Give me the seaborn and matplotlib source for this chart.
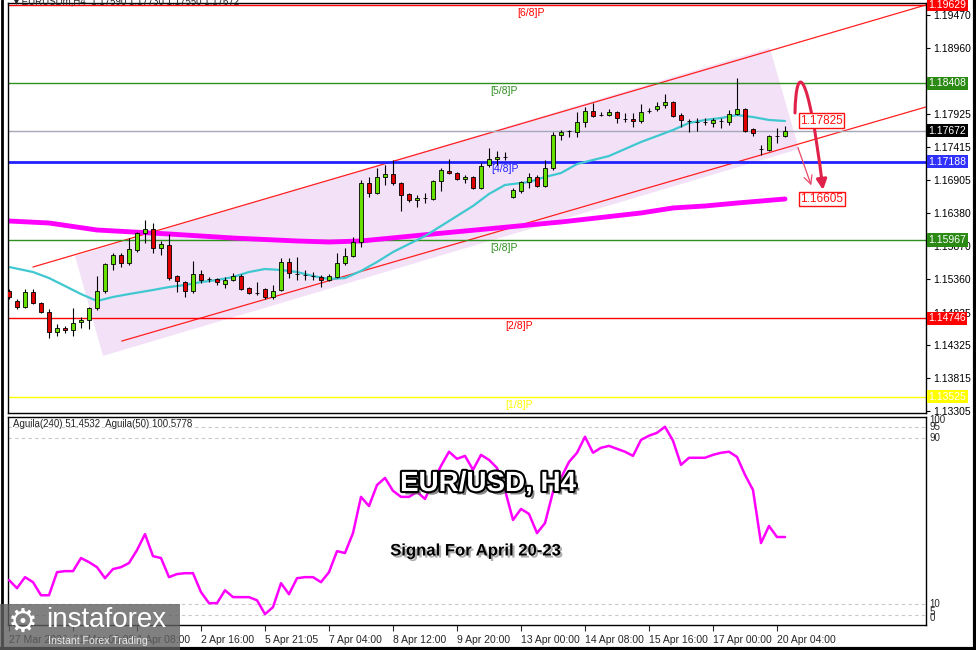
import matplotlib.pyplot as plt
import seaborn as sns
import pandas as pd
import numpy as np
from matplotlib.patches import Polygon, FancyArrowPatch, Rectangle
from matplotlib.path import Path
from matplotlib.lines import Line2D
import matplotlib.patheffects as pe
import matplotlib.transforms as mtransforms

# EUR/USD H4 candles, 27 Mar -> 20 Apr
opens = [1.15173, 1.15018, 1.14924, 1.15158, 1.14986, 1.14846, 1.14535, 1.14596, 1.14566, 1.14689,
         1.14720, 1.14908, 1.15173, 1.15593, 1.15733, 1.15609, 1.15811, 1.16076, 1.16139, 1.15843,
         1.15889, 1.15407, 1.15313, 1.15173, 1.15438, 1.15360, 1.15360, 1.15282, 1.15344, 1.15407,
         1.15220, 1.15142, 1.15204, 1.15080, 1.15189, 1.15625, 1.15438, 1.15422, 1.15407, 1.15391,
         1.15344, 1.15391, 1.15609, 1.15718, 1.15936, 1.16855, 1.16699, 1.16948, 1.16995, 1.16855,
         1.16684, 1.16590, 1.16621, 1.16606, 1.16886, 1.17042, 1.17010, 1.16917, 1.16948, 1.16777,
         1.17135, 1.17228, 1.17260, 1.16637, 1.16730, 1.16870, 1.16948, 1.16808, 1.17088, 1.17602,
         1.17664, 1.17649, 1.17804, 1.17976, 1.17913, 1.17913, 1.17960, 1.17851, 1.17851, 1.17820,
         1.17976, 1.18007, 1.18069, 1.18116, 1.17913, 1.17820, 1.17804, 1.17804, 1.17789, 1.17820,
         1.17804, 1.17929, 1.18007, 1.17695, 1.17384, 1.17369, 1.17586, 1.17586]
highs = [1.15204, 1.15049, 1.15204, 1.15204, 1.15002, 1.14893, 1.14658, 1.14627, 1.14908, 1.14768,
         1.14924, 1.15407, 1.15609, 1.15764, 1.15764, 1.15998, 1.16092, 1.16279, 1.16232, 1.15952,
         1.16061, 1.15422, 1.15329, 1.15640, 1.15500, 1.15391, 1.15375, 1.15391, 1.15453, 1.15438,
         1.15235, 1.15313, 1.15220, 1.15266, 1.15687, 1.15687, 1.15702, 1.15500, 1.15469, 1.15422,
         1.15438, 1.15764, 1.15843, 1.16014, 1.16901, 1.16948, 1.17088, 1.17135, 1.17213, 1.16870,
         1.16699, 1.16668, 1.16699, 1.16901, 1.17088, 1.17228, 1.17026, 1.16979, 1.16964, 1.17166,
         1.17400, 1.17353, 1.17337, 1.16777, 1.16886, 1.17010, 1.16979, 1.17213, 1.17649, 1.17680,
         1.17680, 1.17960, 1.18038, 1.18100, 1.17960, 1.18007, 1.17976, 1.17945, 1.17945, 1.18085,
         1.18022, 1.18116, 1.18240, 1.18131, 1.17945, 1.17851, 1.17867, 1.17867, 1.17867, 1.17867,
         1.17991, 1.18490, 1.18022, 1.17711, 1.17446, 1.17602, 1.17711, 1.17742]
lows = [1.15049, 1.14893, 1.14908, 1.14971, 1.14830, 1.14441, 1.14473, 1.14519, 1.14473, 1.14596,
        1.14581, 1.14877, 1.15142, 1.15500, 1.15547, 1.15578, 1.15780, 1.15921, 1.15764, 1.15733,
        1.15344, 1.15158, 1.15080, 1.15142, 1.15297, 1.15313, 1.15266, 1.15220, 1.15329, 1.15189,
        1.15126, 1.15111, 1.15049, 1.15049, 1.15173, 1.15375, 1.15344, 1.15344, 1.15344, 1.15235,
        1.15329, 1.15375, 1.15578, 1.15702, 1.15858, 1.16637, 1.16684, 1.16824, 1.16824, 1.16419,
        1.16559, 1.16481, 1.16543, 1.16590, 1.16730, 1.16995, 1.16901, 1.16855, 1.16761, 1.16761,
        1.17104, 1.17135, 1.17213, 1.16621, 1.16699, 1.16777, 1.16792, 1.16792, 1.17057, 1.17524,
        1.17571, 1.17571, 1.17727, 1.17882, 1.17898, 1.17898, 1.17789, 1.17804, 1.17727, 1.17789,
        1.17945, 1.17976, 1.18022, 1.17882, 1.17727, 1.17649, 1.17664, 1.17758, 1.17727, 1.17711,
        1.17758, 1.17913, 1.17649, 1.17586, 1.17291, 1.17353, 1.17477, 1.17571]
closes = [1.15080, 1.14924, 1.15158, 1.14986, 1.14846, 1.14535, 1.14596, 1.14566, 1.14674, 1.14720,
          1.14908, 1.15173, 1.15593, 1.15733, 1.15609, 1.15827, 1.16076, 1.16139, 1.15843, 1.15905,
          1.15375, 1.15329, 1.15173, 1.15438, 1.15344, 1.15360, 1.15313, 1.15344, 1.15407, 1.15204,
          1.15142, 1.15142, 1.15080, 1.15173, 1.15625, 1.15453, 1.15438, 1.15422, 1.15407, 1.15344,
          1.15407, 1.15609, 1.15718, 1.15936, 1.16855, 1.16699, 1.16948, 1.16995, 1.16855, 1.16668,
          1.16590, 1.16621, 1.16621, 1.16886, 1.17057, 1.17010, 1.16917, 1.16948, 1.16777, 1.17119,
          1.17228, 1.17260, 1.17260, 1.16746, 1.16870, 1.16948, 1.16808, 1.17088, 1.17602, 1.17649,
          1.17664, 1.17804, 1.17976, 1.17898, 1.17913, 1.17960, 1.17867, 1.17851, 1.17820, 1.17960,
          1.17976, 1.18054, 1.18116, 1.17898, 1.17836, 1.17820, 1.17804, 1.17804, 1.17836, 1.17820,
          1.17929, 1.18007, 1.17664, 1.17633, 1.17384, 1.17586, 1.17586, 1.17672]

# fast moving average (cyan) and slow one (magenta), sampled at bar indices
ma_fast_bar = [0, 3, 5, 7, 9, 11, 13, 15, 18, 20, 22, 24, 26, 28, 30, 32, 34, 36, 38, 40, 42, 44, 46, 48,
               50, 52, 54, 56, 58, 60, 62, 65, 67, 69, 71, 73, 75, 77, 79, 81, 83, 85, 87, 89, 91, 93, 95, 97]
ma_fast = [1.15547, 1.15469, 1.15375, 1.15251, 1.15126, 1.15018, 1.15080, 1.15126, 1.15189, 1.15235,
           1.15266, 1.15313, 1.15344, 1.15391, 1.15469, 1.15516, 1.15500, 1.15469, 1.15407, 1.15360,
           1.15375, 1.15485, 1.15625, 1.15780, 1.15905, 1.16029, 1.16185, 1.16341, 1.16497, 1.16684,
           1.16824, 1.16870, 1.16948, 1.17010, 1.17150, 1.17213, 1.17275, 1.17384, 1.17493, 1.17586,
           1.17680, 1.17789, 1.17836, 1.17867, 1.17913, 1.17882, 1.17836, 1.17820]
ma_slow_bar = [0, 5, 11, 20, 28, 36, 40, 44, 53, 61, 69, 79, 83, 87, 91, 97]
ma_slow = [1.16263, 1.16232, 1.16123, 1.16061, 1.15998, 1.15952, 1.15936, 1.15952, 1.16061, 1.16154,
           1.16248, 1.16388, 1.16466, 1.16497, 1.16543, 1.16606]

# Aguila(240) oscillator, one value per bar
aguila = [21.6, 17.7, 23.0, 20.6, 14.3, 14.3, 25.4, 25.9, 25.9, 32.2,
          30.2, 27.8, 22.5, 26.9, 27.8, 29.8, 36.0, 43.7, 33.1, 32.2,
          23.0, 24.5, 24.9, 24.9, 15.8, 10.5, 10.5, 16.7, 13.4, 13.4,
          13.4, 11.9, 5.2, 8.6, 20.1, 14.8, 22.5, 23.0, 23.0, 20.6,
          25.4, 35.5, 34.6, 44.2, 61.6, 57.2, 67.3, 70.7, 64.5, 61.6,
          61.6, 64.0, 60.6, 68.8, 76.5, 83.3, 79.9, 81.3, 74.6, 81.8,
          79.4, 75.5, 64.9, 50.5, 55.8, 53.4, 44.2, 49.0, 64.0, 70.7,
          78.4, 82.8, 90.5, 82.8, 85.2, 86.1, 84.7, 83.3, 81.3, 89.0,
          91.0, 92.4, 95.3, 88.6, 77.0, 80.4, 80.4, 80.4, 81.8, 82.8,
          83.3, 80.8, 72.2, 64.9, 39.4, 47.6, 42.3, 42.3]

time_ticks = [0, 8, 16, 24, 32, 40, 48, 56, 64, 72, 80, 88, 96]
time_labels = ['27 Mar 2026', '31 Mar 00:00', '1 Apr 08:00', '2 Apr 16:00', '5 Apr 21:05', '7 Apr 04:00',
               '8 Apr 12:00', '9 Apr 20:00', '13 Apr 00:00', '14 Apr 08:00', '15 Apr 16:00',
               '17 Apr 00:00', '20 Apr 04:00']
price_ticks = [1.19470, 1.18960, 1.17925, 1.17415, 1.16905, 1.16380, 1.15870, 1.15360,
               1.14835, 1.14325, 1.13815, 1.13305]

# Murrey levels: (name, price, line colour, label bar)
levels = [('[6/8]P', 1.19629, '#ff0000', 63.5),
          ('[5/8]P', 1.18408, '#2f8f1f', 60.1),
          ('[4/8]P', 1.17188, '#2020ff', 60.3),
          ('[3/8]P', 1.15967, '#2f8f1f', 60.1),
          ('[2/8]P', 1.14746, '#ff0000', 62.0),
          ('[1/8]P', 1.13525, '#ffff00', 62.0)]
level_label_bg = {'[6/8]P': '#ff0000', '[5/8]P': '#2a8a14', '[4/8]P': '#3030ff',
                  '[3/8]P': '#2a8a14', '[2/8]P': '#ff0000', '[1/8]P': '#ffff00'}
last_price = 1.17672

# channel
upper_chan = ([3, 114.6], [1.15547, 1.19626])
lower_chan = ([14.1, 114.6], [1.14394, 1.18038])
chan_box = [(8.25, 1.15718), (11.75, 1.14162), (98.75, 1.17384), (95.1, 1.18957)]

sns.set_style('white')
plt.rcParams['font.family'] = ['Liberation Sans Narrow', 'Liberation Sans', 'DejaVu Sans']

W, H = 976, 650
fig = plt.figure(figsize=(W / 100, H / 100), dpi=100)
left, width = 8 / W, 918 / W
ax = fig.add_axes([left, 1 - 413 / H, width, 410 / H])
ind = fig.add_axes([left, 1 - 625 / H, width, 208 / H])

for a in (ax, ind):
    for s in a.spines.values():
        s.set_color('black')
        s.set_linewidth(1)
    a.set_xlim(-0.125, 114.625)

ax.set_ylim(1.13274, 1.19657)
ind.set_ylim(0, 100)

# channel shading and lines
ax.add_patch(Polygon(chan_box, closed=True, facecolor='#f3e1f8', edgecolor='none', zorder=0))
ax.plot(*upper_chan, color='#ff2020', lw=0.9, zorder=1)
ax.plot(*lower_chan, color='#ff2020', lw=0.9, zorder=1)

# level lines
for name, price, col, xb in levels:
    lw = 2 if name == '[4/8]P' else 1
    ax.axhline(price, color=col, lw=lw, zorder=1)
    ax.text(xb, price - 0.00045, name, color=col, fontsize=7.5, va='top', ha='left', zorder=2)
ax.axhline(last_price, color='#a4a8b8', lw=1, zorder=1)

# moving averages
sns.lineplot(x=ma_slow_bar, y=ma_slow, ax=ax, color='#ff00ff', lw=3.5, zorder=2, legend=False)
sns.lineplot(x=ma_fast_bar, y=ma_fast, ax=ax, color='#40c8d0', lw=1.6, zorder=2, legend=False)

# candles
idx = np.arange(len(opens))
o, hi, lo, c = map(np.array, (opens, highs, lows, closes))
ax.vlines(idx, lo, hi, color='black', lw=0.8, zorder=3)
body_col = np.where(c > o, '#66e000', np.where(c < o, '#e00000', 'black'))
ax.bar(idx, np.maximum(np.abs(c - o), 0.00002), bottom=np.minimum(o, c), width=0.62,
       color=body_col, edgecolor='black', lw=0.6, zorder=4)

# forecast arrows
curve = Path([(98.25, 1.17945), (98.375, 1.18739), (99.875, 1.18676), (101.75, 1.16746)],
             [Path.MOVETO, Path.CURVE4, Path.CURVE4, Path.CURVE4])
ax.add_patch(FancyArrowPatch(path=curve, arrowstyle='-|>,head_length=6,head_width=3',
                             color='#e0224a', lw=2.2, zorder=6))
ax.annotate('', xy=(100.4, 1.16777), xytext=(98.5, 1.17446),
            arrowprops=dict(arrowstyle='->,head_length=0.6,head_width=0.3', color='#e84868', lw=0.9),
            zorder=6)
for val in (1.17825, 1.16605):
    ax.text(98.9, val, f'{val:.5f}', color='#ff1010', fontsize=8.5, va='center', ha='left', zorder=7,
            bbox=dict(boxstyle='square,pad=0.12', fc='white', ec='#ff1010', lw=1))

# right price axis
ax.yaxis.tick_right()
ax.set_yticks(price_ticks)
ax.set_yticklabels([f'{v:.5f}' for v in price_ticks])
ax.tick_params(axis='y', length=3, width=0.8, pad=2, labelsize=7.5, colors='black', right=True)
ax.set_xticks([])
blend = mtransforms.blended_transform_factory(ax.transAxes, ax.transData)
for name, price, col, xb in levels:
    ax.text(1.0025, price, f'{price:.5f}', transform=blend, color='white', fontsize=7.5,
            va='center', ha='left', zorder=8, clip_on=False,
            bbox=dict(boxstyle='square,pad=0.15', fc=level_label_bg[name], ec='none'))
ax.text(1.0025, last_price, f'{last_price:.5f}', transform=blend, color='white', fontsize=7.5,
        va='center', ha='left', zorder=8, clip_on=False,
        bbox=dict(boxstyle='square,pad=0.15', fc='black', ec='none'))

# indicator panel
for lvl in (95, 90, 10, 5):
    ind.axhline(lvl, color='#c8c8c8', lw=0.8, ls=(0, (3, 3)), zorder=1)
ind_df = pd.DataFrame({'bar': idx, 'Aguila': aguila})
sns.lineplot(data=ind_df, x='bar', y='Aguila', ax=ind, color='#ff00ff', lw=1.8, zorder=3, legend=False)
ind.set_xlabel('')
ind.set_ylabel('')
ax.set_xlabel('')
ax.set_ylabel('')
ind.set_yticks([])
iblend = mtransforms.blended_transform_factory(ind.transAxes, ind.transData)
for lab, yv in (('100', 98.5), ('95', 95.3), ('90', 90), ('10', 10), ('5', 6.2), ('0', 3.6)):
    ind.text(1.004, yv, lab, transform=iblend, fontsize=7, va='center', ha='left', clip_on=False)
ind.text(0.005, 0.965, 'Aguila(240) 51.4532  Aguila(50) 100.5778', transform=ind.transAxes,
         fontsize=7, va='center', ha='left')
ind.set_xticks(time_ticks)
ind.set_xticklabels(time_labels, ha='left')
ind.tick_params(axis='x', length=4, width=0.8, pad=3, labelsize=7.5, direction='out', bottom=True)

# headline texts
fig.text(488 / W, 1 - 484 / H, 'EUR/USD, H4', fontsize=20, weight='bold', color='white',
         family=['Liberation Sans', 'DejaVu Sans'], ha='center', va='center',
         path_effects=[pe.SimplePatchShadow(offset=(2.5, -2.5), shadow_rgbFace='#555555', alpha=0.7),
                       pe.Stroke(linewidth=3, foreground='black'), pe.Normal()])
fig.text(475 / W, 1 - 551 / H, 'Signal For April 20-23', fontsize=12, weight='bold', color='black',
         family=['Liberation Sans', 'DejaVu Sans'], ha='center', va='center',
         path_effects=[pe.SimplePatchShadow(offset=(1.5, -1.5), shadow_rgbFace='#777777', alpha=0.6),
                       pe.Normal()])
fig.text(14 / W, 1 - 1 / H, '\u25be EURUSDm,H4  1.17590 1.17730 1.17550 1.17672', fontsize=7,
         va='center', ha='left')

# logo
fig.patches.append(Rectangle((0, 0), 180 / W, 46 / H, transform=fig.transFigure,
                             facecolor='#606060', alpha=0.8, edgecolor='none', zorder=10))
fig.text(23 / W, 1 - 622 / H, '\u2699', fontsize=24, color='white', ha='center', va='center',
         family=['DejaVu Sans'], zorder=11)
fig.text(46 / W, 1 - 620 / H, 'instaforex', fontsize=20, color='white', ha='left', va='center',
         family=['Liberation Sans', 'DejaVu Sans'], zorder=11)
fig.text(48 / W, 1 - 641 / H, 'Instant Forex Trading', fontsize=7.6, color='#e8e8e8', ha='left',
         va='center', family=['Liberation Sans', 'DejaVu Sans'], zorder=11)

# outer frame
fig.add_artist(Line2D([1.5 / W, 1.5 / W], [0, 1], transform=fig.transFigure, color='black', lw=2))
fig.add_artist(Line2D([0, 1], [1.5 / H, 1.5 / H], transform=fig.transFigure, color='black', lw=3))
fig.add_artist(Line2D([1 - 1.5 / W, 1 - 1.5 / W], [0, 1], transform=fig.transFigure, color='black', lw=3))

fig.savefig('out.png', dpi=100)
